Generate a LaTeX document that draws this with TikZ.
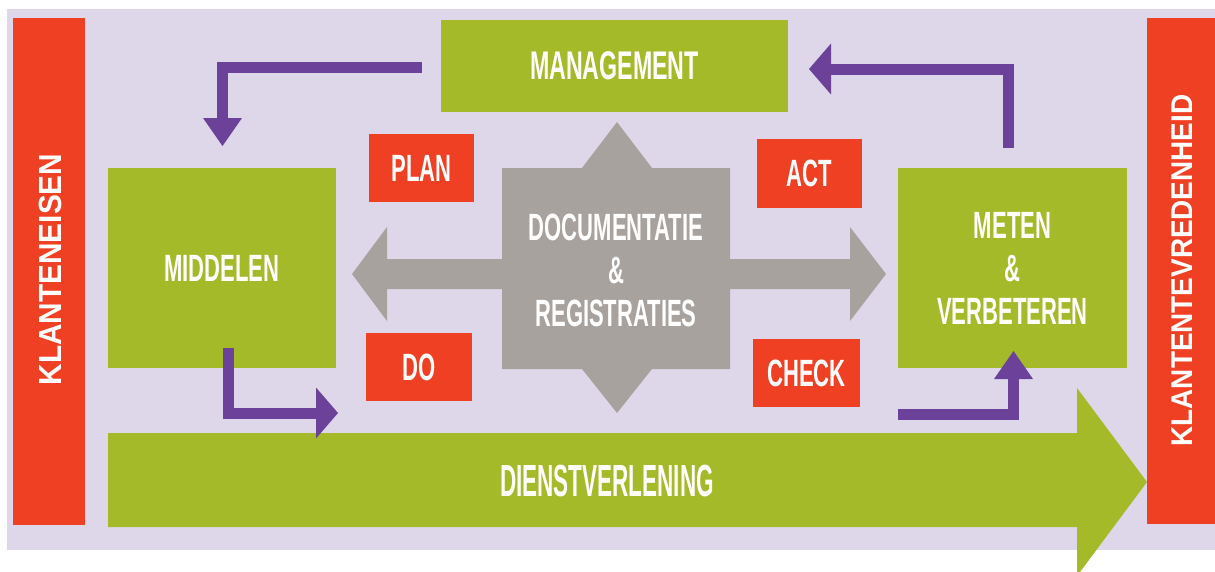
\documentclass[tikz,border=0pt]{standalone}
\usepackage{fontspec}
\setmainfont{Liberation Sans}
\newfontfamily\condf{Liberation Sans}[FakeStretch=0.58]
\newfontfamily\condwf{Liberation Sans}[FakeStretch=0.5]
\newfontfamily\sidef{Liberation Sans}[FakeStretch=0.93]
\usetikzlibrary{arrows.meta}
\definecolor{bgl}{HTML}{DED7EA}
\definecolor{redb}{HTML}{F04023}
\definecolor{greenb}{HTML}{A5BA29}
\definecolor{purp}{HTML}{6C4199}
\definecolor{grayb}{HTML}{A8A29E}
\begin{document}
\begin{tikzpicture}[x=1pt,y=-1pt,
  box/.style={inner sep=0pt,outer sep=0pt,anchor=north west,text=white,
    font=\condf\bfseries\fontsize{38}{43}\selectfont,align=center},
  gbox/.style={box,fill=greenb},
  rbox/.style={box,fill=redb},
  sidebar/.style={inner sep=0pt,outer sep=0pt,anchor=north west,fill=redb},
  sidetext/.style={inner sep=0pt,text=white,rotate=90,font=\sidef\bfseries\fontsize{32}{36}\selectfont},
  parrowA/.style={draw=purp,line width=11pt,line join=miter,
    -{Triangle[width=39pt,length=28pt,line width=0pt]}},
  parrowB/.style={draw=purp,line width=11pt,line join=miter,
    -{Triangle[width=51pt,length=22pt,line width=0pt]}}]
\useasboundingbox (0,0) rectangle (1215,571);
\clip (0,0) rectangle (1215,571);
% background
\fill[bgl] (7,9) rectangle (1215,550);
% side bars
\node[sidebar,minimum width=72pt,minimum height=507pt] (lbar) at (13,18) {};
\node[sidebar,minimum width=72pt,minimum height=506pt] (rbar) at (1147,18) {};
\node[sidetext] (eisen) at (50.5,269.5) {KLANTENEISEN};
\node[sidetext,font=\sidef\bfseries\fontsize{30}{34}\selectfont] (tevr) at (1182.5,270.5) {KLANTENTEVREDENHEID};
% green boxes
\node[gbox,minimum width=347pt,minimum height=92pt,font=\condf\bfseries\fontsize{40}{44}\selectfont] (mgmt) at (441,20) {MANAGEMENT};
\node[gbox,minimum width=228pt,minimum height=200pt] (mid) at (108,168) {MIDDELEN};
\node[gbox,minimum width=229pt,minimum height=200pt] (meten) at (898,168) {METEN\\\&\\VERBETEREN};
% gray double arrow shape
\fill[grayb] (352,274) -- (387,227) -- (387,259) -- (502,259) -- (502,168)
  -- (582,168) -- (617,122) -- (652,168) -- (730,168) -- (730,259)
  -- (850,259) -- (850,227) -- (886,274) -- (850,321) -- (850,289)
  -- (730,289) -- (730,369) -- (652,369) -- (617,413) -- (582,369)
  -- (502,369) -- (502,289) -- (387,289) -- (387,321) -- cycle;
\node[box,anchor=center] (doc) at (616,270) {DOCUMENTATIE\\\&\\REGISTRATIES};
% PDCA boxes
\node[rbox,minimum width=105pt,minimum height=68pt] (plan) at (369,134) {PLAN};
\node[rbox,minimum width=105pt,minimum height=69pt] (act) at (757,139) {ACT};
\node[rbox,minimum width=106pt,minimum height=68pt] (do) at (366,333) {DO};
\node[rbox,minimum width=107pt,minimum height=68pt] (check) at (753,339) {CHECK};
% big green arrow
\fill[greenb] (108,433) -- (1077,433) -- (1077,388) -- (1147,482)
  -- (1077,576) -- (1077,527) -- (108,527) -- cycle;
\node[box,anchor=center,font=\condwf\bfseries\fontsize{45}{50}\selectfont] (dienst) at (607,481) {DIENSTVERLENING};
% purple arrows
\coordinate (a1s) at (422,67);
\coordinate (a1e) at (222.5,146);
\coordinate (a2s) at (228,348);
\coordinate (a2e) at (338,413);
\coordinate (a3s) at (1008.5,148);
\coordinate (a3e) at (809,69);
\coordinate (a4s) at (898,414.5);
\coordinate (a4e) at (1013.5,351);
\draw[parrowA] (a1s) -| (a1e);
\draw[parrowB] (a2s) |- (a2e);
\draw[parrowB] (a3s) |- (a3e);
\draw[parrowA] (a4s) -| (a4e);
\end{tikzpicture}
\end{document}
